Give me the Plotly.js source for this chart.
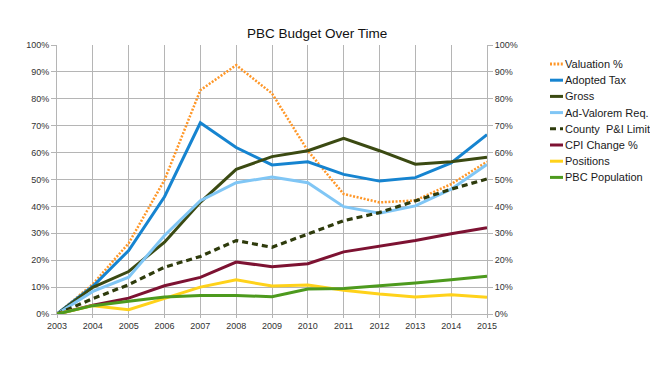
<!DOCTYPE html>
<html>
<head>
<meta charset="utf-8">
<script src="https://cdn.plot.ly/plotly-3.0.1.min.js"></script>
<style>html,body{margin:0;padding:0;background:#fff;}#chart{width:650px;height:365px;}</style>
</head>
<body>
<div id="chart"></div>
<script>
const years = [2003,2004,2005,2006,2007,2008,2009,2010,2011,2012,2013,2014,2015];
const valuation   = [0,11.1,26.3,49.8,83.2,92.5,82.0,60.7,44.6,41.5,42.2,48.3,56.6];
const adoptedTax  = [0,10.3,23.6,43.6,71.1,61.9,55.4,56.6,51.9,49.4,50.7,56.2,66.7];
const gross       = [0,9.9,15.8,26.7,41.5,53.8,58.5,60.7,65.3,60.7,55.7,56.6,58.3];
const adValorem   = [0,8.4,13.7,29.2,42.1,48.8,50.9,48.8,39.9,37.5,40.2,46.4,55.6];
const countyPI    = [0,5.7,10.9,17.4,21.4,27.3,24.8,29.8,34.7,37.7,42.2,46.4,50.2];
const cpiChange   = [0,3.3,5.9,10.5,13.6,19.3,17.6,18.7,23.1,25.1,27.3,29.8,32.1];
const positions   = [0,3.1,1.6,5.9,10.0,12.7,10.4,10.8,8.8,7.4,6.3,7.2,6.2];
const population  = [0,3.1,4.7,6.3,6.9,6.9,6.4,9.3,9.5,10.4,11.5,12.7,14.0];
const yTicks = [0,10,20,30,40,50,60,70,80,90,100];
const yTickLabels = ['0%','10%','20%','30%','40%','50%','60%','70%','80%','90%','100%'];
const seriesNames = ['Valuation %','Adopted Tax','Gross','Ad-Valorem Req.','County  P&I Limit','CPI Change %','Positions','PBC Population'];

const seriesData = [valuation, adoptedTax, gross, adValorem, countyPI, cpiChange, positions, population];
const styles = [
  {color:'#ff9626', dash:'2px,1.6px', width:2.5},
  {color:'#1684d0', dash:'solid', width:3},
  {color:'#3b4a12', dash:'solid', width:3},
  {color:'#80c6f5', dash:'solid', width:3},
  {color:'#2e3b0c', dash:'6px,4px', width:3.2},
  {color:'#7d1232', dash:'solid', width:3},
  {color:'#ffd21a', dash:'solid', width:3},
  {color:'#4d9a1e', dash:'solid', width:3}
];

const FONT = 'Arial';

const traces = seriesData.map((d,i) => ({
  type:'scatter', mode:'lines', x:years, y:d, name:seriesNames[i], showlegend:false,
  line:{color:styles[i].color, width:styles[i].width, dash:styles[i].dash}, hoverinfo:'skip'
}));
traces.push({type:'scatter', mode:'lines', x:years, y:population, yaxis:'y2',
  line:{color:'rgba(0,0,0,0)', width:0}, showlegend:false, hoverinfo:'skip'});

// Custom legend
const W = 650, H = 365;
const legTop = 64, legStep = 16.2;
const annotations = [], shapes = [];
seriesNames.forEach((n,i) => {
  const py = legTop + legStep*i;
  const fy = (314-py)/269;
  annotations.push({xref:'paper', yref:'paper', x:(563-57)/430, y:fy, xanchor:'left', yanchor:'middle',
    text:n.replace('&','&amp;'), showarrow:false, font:{family:FONT, size:11, color:'#1a1a1a'}});
  shapes.push({type:'line', xref:'paper', yref:'paper', x0:(550-57)/430, x1:(563-57)/430, y0:fy, y1:fy,
    line:{color:styles[i].color, width:3, dash:styles[i].dash}});
});

const tickFont = {family:FONT, size:9, color:'#333'};
const grid = '#b5b5b5';

const layout = {
  width:W, height:H,
  margin:{l:57, r:163, t:45, b:51},
  paper_bgcolor:'#fff', plot_bgcolor:'#fff',
  title:{text:'PBC Budget Over Time', font:{family:FONT, size:13.5, color:'#111'},
    x:0.488, xref:'container', xanchor:'center', y:0.91, yref:'container', yanchor:'middle'},
  xaxis:{range:[2003,2015], tickvals:years, ticktext:years.map(String), showgrid:true, gridcolor:grid, gridwidth:1,
    showline:true, linecolor:grid, ticks:'outside', ticklen:3, tickcolor:grid, tickfont:tickFont, zeroline:false, fixedrange:true},
  yaxis:{range:[0,100], tickvals:yTicks, ticktext:yTickLabels, showgrid:true, gridcolor:grid, gridwidth:1,
    showline:true, linecolor:grid, ticks:'outside', ticklen:5, tickcolor:grid, tickfont:tickFont, zeroline:false, fixedrange:true},
  yaxis2:{range:[0,100], tickvals:yTicks, ticktext:yTickLabels, overlaying:'y', side:'right', showgrid:false,
    showline:true, linecolor:grid, ticks:'outside', ticklen:5, tickcolor:grid, tickfont:tickFont, zeroline:false, fixedrange:true},
  showlegend:false,
  annotations:annotations,
  shapes:shapes
};

Plotly.newPlot('chart', traces, layout, {displayModeBar:false, staticPlot:true});
</script>
</body>
</html>
